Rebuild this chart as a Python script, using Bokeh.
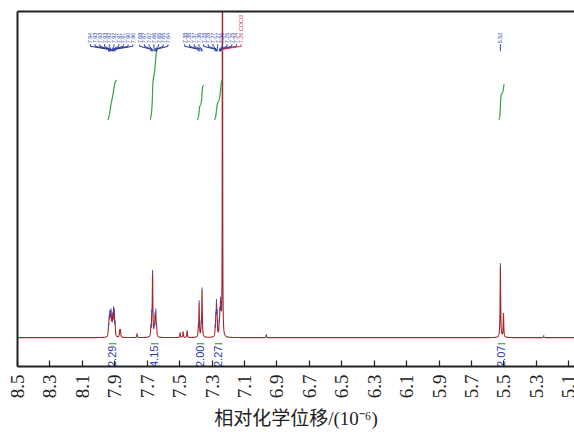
import numpy as np
from math import pi
from bokeh.plotting import figure
from bokeh.models import Range1d, FixedTicker, LinearAxis
from bokeh.core.properties import value
from bokeh.embed import file_html
from bokeh.resources import INLINE

# ---------------- data ----------------
tick_labels = ["8.5", "8.3", "8.1", "7.9", "7.7", "7.5", "7.3", "7.1", "6.9",
               "6.7", "6.5", "6.3", "6.1", "5.9", "5.7", "5.5", "5.3", "5.1"]

# labelled lines (ppm, height)
g1_ppm = [7.939, 7.935, 7.931, 7.927, 7.923, 7.918, 7.913, 7.908, 7.903, 7.898]
g1_h = [7, 13, 17, 15, 19, 14, 15, 22, 21, 10]
g2_ppm = [7.678, 7.672, 7.667, 7.657, 7.652, 7.647, 7.642]
g2_h = [7, 16, 62, 7, 17, 22, 8]
g3_ppm = [7.385, 7.380, 7.367, 7.362]
g3_h = [6, 33, 8, 46]
g4_ppm = [7.281, 7.277, 7.273, 7.269, 7.256, 7.252, 7.248, 7.244]
g4_h = [5, 15, 28, 18, 9, 17, 27, 16]
g5_ppm = [5.522]
g5_h = [72]

# unlabelled lines
other_ppm = [7.870, 7.865, 7.763, 7.497, 7.479, 7.454, 6.966, 5.503, 5.255]
other_h = [7, 7, 4, 5, 6, 7, 3, 24, 2]

solvent_ppm = 7.236
solvent_h = 1500
solvent_label = "7.26 CDCl3"

# integrals: region start, region end, value
int_start = [7.945, 7.684, 7.393, 7.287, 5.534]
int_end = [7.888, 7.636, 7.352, 7.241, 5.497]
int_value = [2.29, 4.15, 2.00, 2.27, 2.07]

# ---------------- spectrum ----------------
xs = np.arange(5.05, 8.51, 0.0003)
ys = np.zeros_like(xs)
W = 0.002
for pp, hh in zip(g1_ppm + g2_ppm + g3_ppm + g4_ppm + g5_ppm + other_ppm,
                  g1_h + g2_h + g3_h + g4_h + g5_h + other_h):
    ys += hh / (1 + ((xs - pp) / W) ** 2)
ys += solvent_h / (1 + ((xs - solvent_ppm) / 0.0006) ** 2)

p = figure(width=574, height=432, output_backend="svg", toolbar_location=None,
           x_range=Range1d(8.5, 5.065), y_range=Range1d(-29, 328),
           y_axis_type=None, min_border_left=17, min_border_right=0,
           min_border_top=11, min_border_bottom=64)
p.outline_line_color = None
p.xgrid.visible = False
p.background_fill_color = "white"
p.border_fill_color = "white"

ax = p.xaxis[0]
ax.ticker = FixedTicker(ticks=[float(t) for t in tick_labels])
ax.axis_line_width = 2
ax.axis_line_color = "#222222"
ax.major_tick_in = 6
ax.major_tick_out = 0
ax.major_tick_line_color = "#222222"
ax.major_tick_line_width = 1.2
ax.minor_tick_line_color = None
ax.major_label_orientation = pi / 2
ax.major_label_text_font = "Liberation Serif"
ax.major_label_text_font_size = "19px"
ax.major_label_text_color = "#222222"
ax.major_label_standoff = 8
ax.axis_label = "相对化学位移/(10⁻⁶)"
ax.axis_label_text_font = "Liberation Serif, Noto Sans CJK SC"
ax.axis_label_text_font_style = "normal"
ax.axis_label_text_font_size = "19px"
ax.axis_label_text_color = "#222222"
ax.axis_label_standoff = 7

# frame borders on top and left (plain axis lines, no ticks or labels)
for side in ("above", "left"):
    b = LinearAxis(ticker=FixedTicker(ticks=[]), axis_line_width=2,
                   axis_line_color="#222222", major_tick_line_color=None,
                   minor_tick_line_color=None, major_label_standoff=0)
    p.add_layout(b, side)

# spectrum
p.line(xs, ys, line_color="#a3262d", line_width=1.1)

# integral curves
INT_BASE = 219
INT_SCALE = 17.4
for a, b, v in zip(int_start, int_end, int_value):
    m = (xs <= a) & (xs >= b)
    sx = xs[m][::-1]
    sy = ys[m][::-1]
    cum = np.cumsum(sy)
    cum = (cum - cum[0]) / (cum[-1] - cum[0])
    p.line(sx, INT_BASE + v * INT_SCALE * cum, line_color="#3aa046", line_width=1.2)

# integral labels
centers = [(a + b) / 2 for a, b in zip(int_start, int_end)]
p.text(x=centers, y=[-8] * len(centers), text=[f"{v:.2f}" for v in int_value],
       angle=pi / 2, text_align="right", text_baseline="middle",
       text_font=value("Liberation Sans"), text_font_size="11px", text_color="#2a3aa8")
p.text(x=centers, y=[-8] * len(centers), text=["I"] * len(centers),
       angle=pi / 2, text_align="left", text_baseline="middle",
       text_font=value("Liberation Serif"), text_font_size="11px", text_color="#2e9a3e")

# peak labels (spread to avoid overlap)
lab_ppm = sorted(g1_ppm + g2_ppm + g3_ppm + g4_ppm + g5_ppm + [solvent_ppm], reverse=True)
GAP = 0.029


def spread(targets, gap):
    blocks = []
    for t in targets:
        blocks.append([t, 1])
        while len(blocks) > 1:
            s2, n2 = blocks[-1]
            s1, n1 = blocks[-2]
            last1 = s1 / n1 - (n1 - 1) / 2 * gap
            first2 = s2 / n2 + (n2 - 1) / 2 * gap
            if last1 - first2 < gap:
                blocks[-2] = [s1 + s2, n1 + n2]
                blocks.pop()
            else:
                break
    pos = []
    for s, n in blocks:
        c = s / n
        pos += [c + ((n - 1) / 2 - i) * gap for i in range(n)]
    return pos


lab_x = spread(lab_ppm, GAP)
blue_x, blue_t, blue_px = [], [], []
red_x, red_t, red_px = [], [], []
for lx, pp in zip(lab_x, lab_ppm):
    if pp == solvent_ppm:
        red_x.append(lx); red_t.append(solvent_label); red_px.append(pp)
    else:
        blue_x.append(lx); blue_t.append(f"{pp:.2f}"); blue_px.append(pp)

LAB_Y = 296
p.text(x=blue_x, y=[LAB_Y] * len(blue_x), text=blue_t, angle=pi / 2,
       text_align="left", text_baseline="middle", text_font=value("Liberation Sans"),
       text_font_size="5.5px", text_color="#3349b0")
p.text(x=red_x, y=[LAB_Y] * len(red_x), text=red_t, angle=pi / 2,
       text_align="left", text_baseline="middle", text_font=value("Liberation Sans"),
       text_font_size="5.5px", text_color="#e0404a")
p.multi_line(xs=[[lx, lx, px, px] for lx, px in zip(blue_x, blue_px)],
             ys=[[295, 293, 290, 288]] * len(blue_x), line_color="#26399a", line_width=1)
p.multi_line(xs=[[lx, lx, px, px] for lx, px in zip(red_x, red_px)],
             ys=[[295, 293, 290, 288]] * len(red_x), line_color="#e0303a", line_width=1)

# apex markers
apex_ppm = [pp for pp in lab_ppm if pp != solvent_ppm]
apex_y = np.interp(apex_ppm, xs, ys) + 1
p.scatter(x=apex_ppm, y=apex_y, marker="dash", angle=pi / 2, size=4,
          line_color="#3a4fd0", line_width=1)

open("out.html", "w").write(file_html(p, INLINE))
